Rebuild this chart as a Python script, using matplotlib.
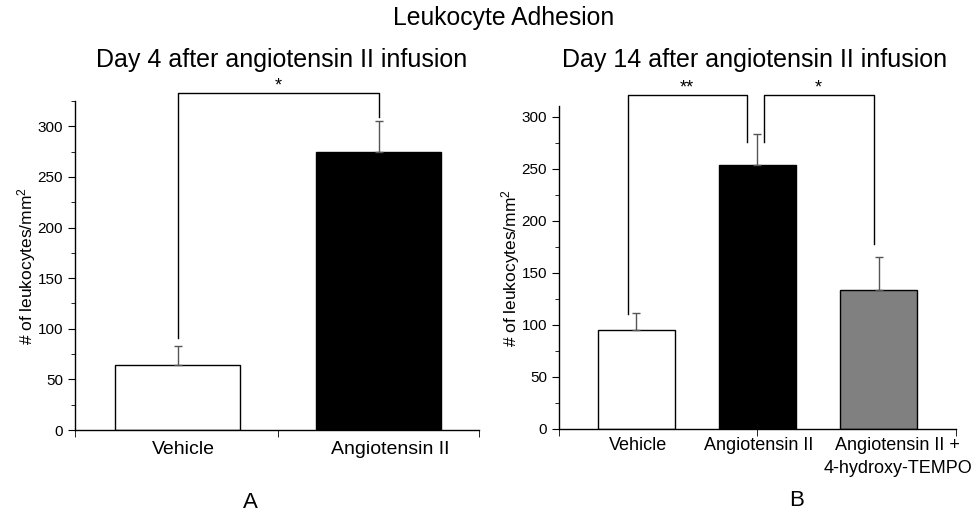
import matplotlib.pyplot as plt
from matplotlib.ticker import MultipleLocator

plt.rcParams["font.family"] = ["Liberation Sans", "DejaVu Sans"]
plt.rcParams["mathtext.fontset"] = "custom"
plt.rcParams["mathtext.rm"] = "Liberation Sans"
plt.rcParams["mathtext.it"] = "Liberation Sans"

# Panel A: day 4
labels_a = ["Vehicle", "Angiotensin II"]
means_a = [64, 275]
errs_a = [19, 30]
colors_a = ["white", "black"]

# Panel B: day 14
labels_b = ["Vehicle", "Angiotensin II", "Angiotensin II +\n4-hydroxy-TEMPO"]
means_b = [95, 254, 133]
errs_b = [16, 29, 32]
colors_b = ["white", "black", "#808080"]

# significance brackets: (x1, x2, y1, y2, top, text)
brackets_a = [(1, 2, 91, 309, 333, "*")]
brackets_b = [(0.93, 1.91, 110, 276, 321, "**"), (2.05, 2.96, 276, 178, 321, "*")]

ylabel = "# of leukocytes/mm$^2$"


def style_axis(ax, ymax):
    ax.spines["top"].set_visible(False)
    ax.spines["right"].set_visible(False)
    ax.spines["left"].set_linewidth(1)
    ax.spines["bottom"].set_linewidth(1)
    ax.set_ylim(0, ymax)
    ax.yaxis.set_major_locator(MultipleLocator(50))
    ax.yaxis.set_minor_locator(MultipleLocator(25))
    ax.tick_params(axis="y", which="major", direction="out", length=5, labelsize=11)
    ax.tick_params(axis="y", which="minor", direction="out", length=3)
    ax.set_ylabel(ylabel, fontsize=12.5, labelpad=0)


def draw_brackets(ax, brackets, fs):
    for x1, x2, y1, y2, top, txt in brackets:
        ax.plot([x1, x1, x2, x2], [y1, top, top, y2], color="black",
                lw=1, clip_on=False)
        ax.text((x1 + x2) / 2, top - 2, txt, ha="center", va="bottom",
                fontsize=fs, clip_on=False)


fig = plt.figure(figsize=(9.73, 5.14), dpi=100)

# ---- panel A ----
ax1 = fig.add_axes([0.0771, 0.1634, 0.4152, 0.640])
xa = [1, 2]
ax1.bar(xa, means_a, width=0.625, color=colors_a, edgecolor="black", linewidth=1)
ax1.errorbar(xa, means_a, yerr=[[0, 0], errs_a], fmt="none", ecolor="#555555",
             elinewidth=1, capsize=3, capthick=1)
ax1.set_xlim(0.49, 2.5)
style_axis(ax1, 325)
ax1.set_xticks([1.03, 2.06])
ax1.set_xticklabels(labels_a, fontsize=14)
ax1.tick_params(axis="x", which="major", length=0, pad=8)
ax1.set_xticks([0.49, 1.5, 2.5], minor=True)
ax1.tick_params(axis="x", which="minor", direction="out", length=5)
draw_brackets(ax1, brackets_a, 13)

# ---- panel B ----
ax2 = fig.add_axes([0.5745, 0.1654, 0.408, 0.628])
xb = [1, 2, 3]
ax2.bar(xb, means_b, width=0.63, color=colors_b, edgecolor="black", linewidth=1)
ax2.errorbar(xb, means_b, yerr=[[0, 0, 0], errs_b], fmt="none", ecolor="#555555",
             elinewidth=1, capsize=3, capthick=1)
ax2.set_xlim(0.36, 3.64)
style_axis(ax2, 310)
ax2.set_xticks([1.01, 2.01, 3.16])
ax2.set_xticklabels(labels_b, fontsize=13, linespacing=1.45)
ax2.tick_params(axis="x", which="major", length=0, pad=6)
ax2.set_xticks([0.36, 2, 3.64], minor=True)
ax2.tick_params(axis="x", which="minor", direction="out", length=5)
draw_brackets(ax2, brackets_b, 13)

# titles
fig.text(504 / 973, 1 - 18 / 514, "Leukocyte Adhesion", ha="center", va="center", fontsize=17.8)
fig.text(282 / 973, 1 - 60 / 514, "Day 4 after angiotensin II infusion",
         ha="center", va="center", fontsize=18)
fig.text(755 / 973, 1 - 60 / 514, "Day 14 after angiotensin II infusion",
         ha="center", va="center", fontsize=18)
fig.text(250 / 973, 1 - 502 / 514, "A", ha="center", va="center", fontsize=16)
fig.text(797 / 973, 1 - 500 / 514, "B", ha="center", va="center", fontsize=16)

fig.savefig("out.png", dpi=100)
